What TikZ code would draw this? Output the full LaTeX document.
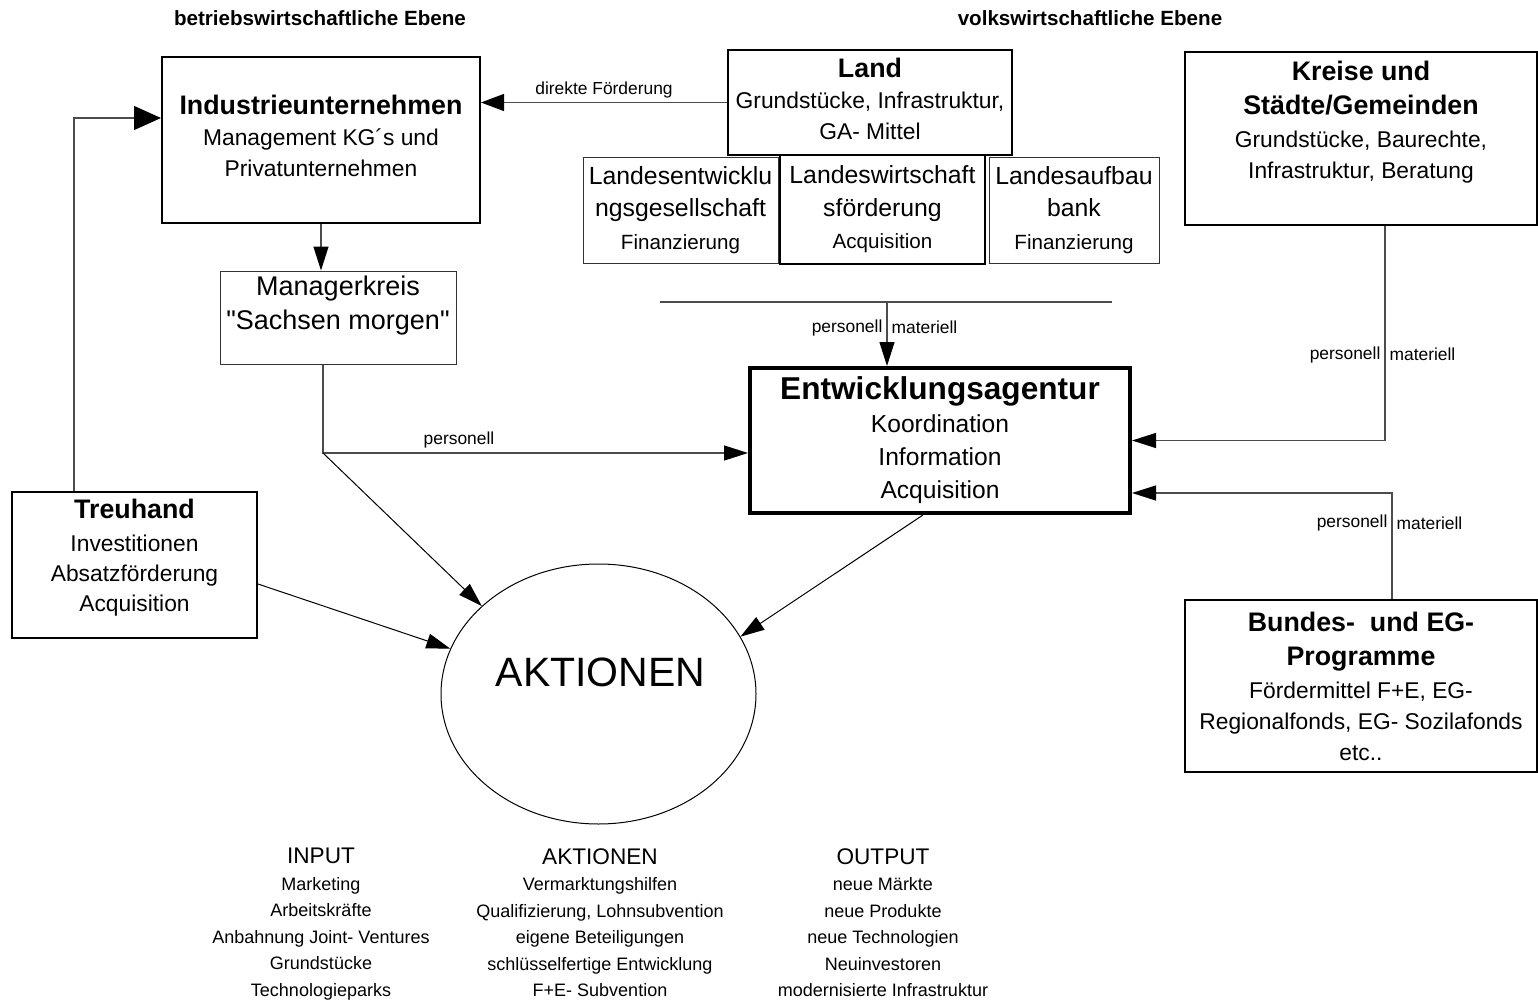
\documentclass[tikz,border=0pt]{standalone}
\usepackage{fontspec}
\setmainfont{Liberation Sans}
\usetikzlibrary{arrows.meta, shapes.geometric}

\newcommand{\boxtitle}[1]{{\fontsize{13.4}{16}\selectfont\bfseries #1}}
\newcommand{\subline}[1]{{\fontsize{10.3}{12}\selectfont #1}}

\tikzset{
	kasten/.style={draw, rectangle, line width=1pt, align=center, inner sep=2pt, font=\fontsize{11.4}{15.5}\selectfont},
	duenn/.style={kasten, line width=0.5pt, draw=black!80},
	landes/.style={font=\fontsize{12.4}{16.25}\selectfont},
	conn/.style={line width=0.6pt, draw=black!70},
	pfeil/.style={conn, -{Triangle[length=12pt, width=7.5pt, color=black]}},
	lbl/.style={font=\fontsize{8.7}{10}\selectfont, inner sep=2pt},
	ebene/.style={font=\fontsize{10.3}{12}\selectfont\bfseries},
	spalte/.style={align=center, anchor=north, inner sep=0pt, font=\fontsize{9}{13.25}\selectfont}
}

\begin{document}
\begin{tikzpicture}[x=0.5pt, y=-0.5pt]
	\useasboundingbox (0,0) rectangle (1538,1001);
	
	% Ebenen
	\node[ebene] (bw) at (320,18) {betriebswirtschaftliche Ebene};
	\node[ebene] (vw) at (1090,18) {volkswirtschaftliche Ebene};
	
	% Industrieunternehmen und Managerkreis
	\node[kasten, minimum width=159pt, minimum height=83pt, text depth=4pt] (indu) at (321,140) {\boxtitle{Industrieunternehmen}\\Management KG´s und\\Privatunternehmen};
	\node[duenn, minimum width=118pt, minimum height=46.5pt, text depth=14.3pt, font=\fontsize{13.5}{17}\selectfont] (manager) at (338,317.5) {Managerkreis\\\textquotedbl Sachsen morgen\textquotedbl};
	
	% Land
	\node[kasten, minimum width=142pt, minimum height=52.5pt, text depth=4pt] (land) at (870,102.5) {\boxtitle{Land}\\Grundstücke, Infrastruktur,\\GA- Mittel};
	\node[duenn, landes, minimum width=97.5pt, minimum height=53pt] (leg) at (680.5,210) {Landesentwicklu\\ngsgesellschaft\\\subline{Finanzierung}};
	\node[kasten, landes, line width=0.75pt, minimum width=102.5pt, minimum height=54.5pt] (lwf) at (882.5,209.5) {Landeswirtschaft\\sförderung\\\subline{Acquisition}};
	\node[duenn, landes, minimum width=85pt, minimum height=53pt] (lab) at (1074,210) {Landesaufbau\\bank\\\subline{Finanzierung}};
	
	% Kreise
	\node[kasten, minimum width=176pt, minimum height=86.5pt, text depth=19pt] (kreise) at (1361,138.5) {\boxtitle{Kreise und}\\[1.5pt]\boxtitle{Städte/Gemeinden}\\[1pt]Grundstücke, Baurechte,\\Infrastruktur, Beratung};
	
	% Entwicklungsagentur
	\node[kasten, line width=2pt, minimum width=190pt, minimum height=72.5pt, font=\fontsize{12.3}{16.5}\selectfont] (entw) at (940,440.5) {{\fontsize{15.8}{18}\selectfont\bfseries Entwicklungsagentur}\\Koordination\\Information\\Acquisition};
	
	% Treuhand
	\node[kasten, minimum width=122.5pt, minimum height=73pt, text depth=10pt, font=\fontsize{11.4}{15}\selectfont] (treuhand) at (134.5,565) {\boxtitle{Treuhand}\\[1.5pt]Investitionen\\Absatzförderung\\Acquisition};
	
	% Bundes- und EG-Programme
	\node[duenn, line width=0.6pt, draw=black, minimum width=176pt, minimum height=86pt] (bundes) at (1361,686) {\boxtitle{Bundes-\ \ und EG-}\\[1.5pt]\boxtitle{Programme}\\[1pt]Fördermittel F+E, EG-\\Regionalfonds, EG- Sozilafonds\\etc..};
	
	% Aktionen
	\node[ellipse, draw, line width=0.5pt, minimum width=157.5pt, minimum height=130pt, label={[font=\fontsize{20.5}{24}\selectfont, yshift=11pt, xshift=1pt]center:AKTIONEN}] (aktionen) at (598.5,694) {};
	
	% Spalten unten
	\node[spalte] (input) at (321,848) {{\fontsize{11.3}{13.25}\selectfont INPUT}\\Marketing\\Arbeitskräfte\\Anbahnung Joint- Ventures\\Grundstücke\\Technologieparks};
	\node[spalte] (massnahmen) at (600,848) {{\fontsize{11.3}{13.25}\selectfont AKTIONEN}\\Vermarktungshilfen\\Qualifizierung, Lohnsubvention\\eigene Beteiligungen\\schlüsselfertige Entwicklung\\F+E- Subvention};
	\node[spalte] (output) at (883,848) {{\fontsize{11.3}{13.25}\selectfont OUTPUT}\\neue Märkte\\neue Produkte\\neue Technologien\\Neuinvestoren\\modernisierte Infrastruktur};
	
	% Verbindungen
	\draw[pfeil, -{Triangle[length=11.5pt, width=8.5pt, color=black]}] (land.west) -- node[lbl, above] {direkte Förderung} (land.west -| indu.east);
	\draw[pfeil, -{Triangle[length=13.5pt, width=12pt, color=black]}] ([xshift=31.5pt]treuhand.north west) |- ([yshift=11pt]indu.west);
	\draw[pfeil] (indu.south) -- (indu.south |- manager.north);
	
	\coordinate (split) at (323,453);
	\draw[pfeil] (manager.south -| split) -- (split) -- node[lbl, above, pos=0.32] {personell} (split -| entw.west);
	\draw[pfeil, draw=black, line width=0.5pt] (split) -- (aktionen.143);
	\draw[pfeil, draw=black, line width=0.5pt] ([yshift=-9.5pt]treuhand.east) -- (aktionen.163);
	\draw[pfeil, draw=black, line width=0.5pt] ([xshift=-8.5pt]entw.south) -- (aktionen.22);
	
	% Land -> Entwicklungsagentur
	\coordinate (bar-l) at (660,302);
	\coordinate (bar-r) at (1112,302);
	\coordinate (bar-m) at (887,302);
	\draw[conn] (bar-l) -- (bar-r);
	\draw[pfeil] (bar-m) -- node[lbl, pos=0.4, left] {personell} node[lbl, pos=0.4, right] {materiell} (bar-m |- entw.north);
	
	% Kreise, Bund/EG -> Entwicklungsagentur
	\draw[pfeil] ([xshift=12pt]kreise.south) |- node[lbl, pos=0.3, left] {personell} node[lbl, pos=0.3, right] {materiell} (entw.east);
	\draw[pfeil] ([xshift=15.5pt]bundes.north) |- node[lbl, pos=0.36, left] {personell} node[lbl, pos=0.36, right] {materiell} ([yshift=-26.25pt]entw.east);
\end{tikzpicture}
\end{document}
